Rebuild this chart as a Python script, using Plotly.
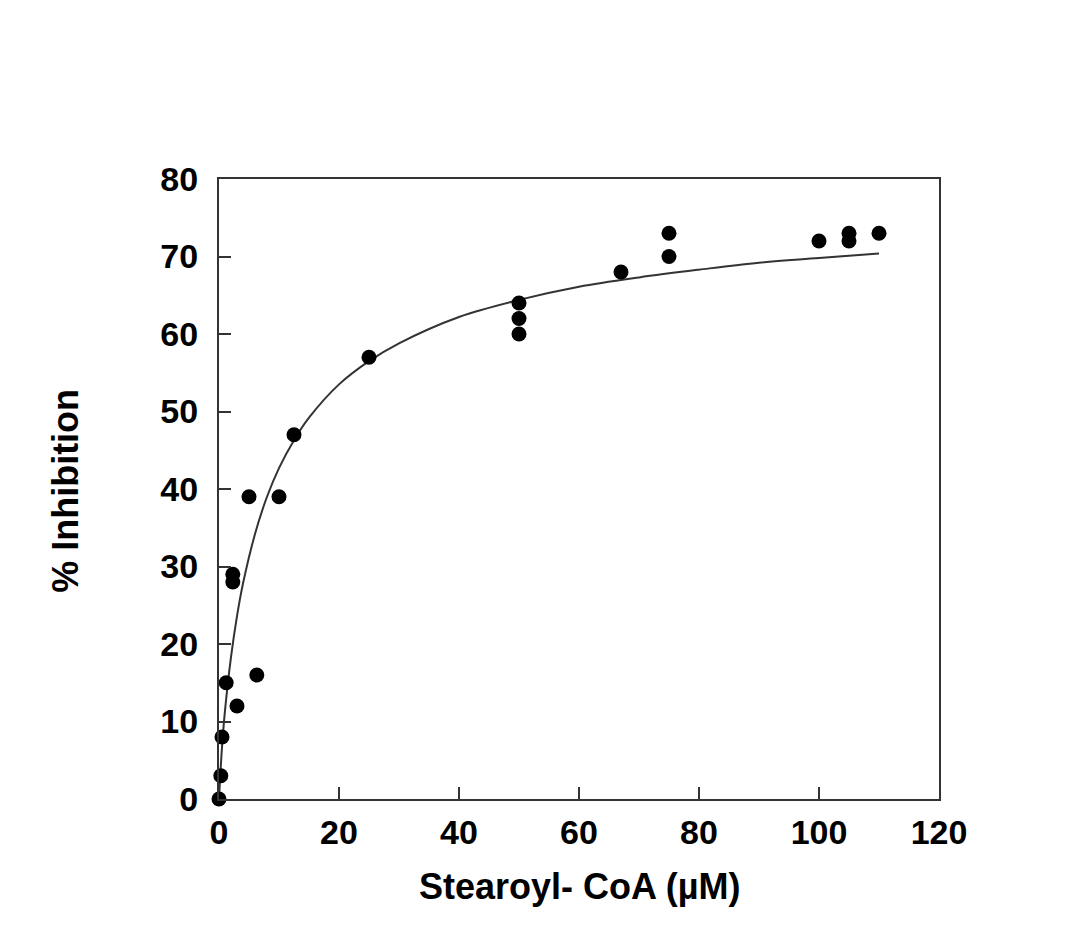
import plotly.graph_objects as go

# Measured inhibition points: Stearoyl-CoA concentration (µM) vs % inhibition
conc = [0, 0.3, 0.5, 1.2, 3, 6.3, 2.3, 2.3, 5, 10, 12.5, 25,
        50, 50, 50, 67, 75, 75, 100, 105, 105, 110]
inhibition = [0, 3, 8, 15, 12, 16, 28, 29, 39, 39, 47, 57,
              64, 62, 60, 68, 73, 70, 72, 72, 73, 73]

# Fitted saturation curve
fit_x = [0, 0.5, 1, 2, 3, 4, 6, 8, 10, 12.5, 15, 20, 25, 30, 40,
         50, 60, 70, 80, 90, 100, 110]
fit_y = [0, 6.7, 11.4, 18.3, 23.6, 27.8, 34.2, 39.0, 42.7, 46.3, 49.2,
         53.5, 56.5, 58.8, 62.2, 64.4, 66.1, 67.3, 68.3, 69.2, 69.8, 70.4]

x_ticks = [0, 20, 40, 60, 80, 100, 120]
y_ticks = [0, 10, 20, 30, 40, 50, 60, 70, 80]

fig = go.Figure()
fig.add_trace(go.Scatter(
    x=fit_x, y=fit_y, mode="lines", line_shape="spline",
    line=dict(color="#333333", width=2), hoverinfo="skip", showlegend=False,
))
fig.add_trace(go.Scatter(
    x=conc, y=inhibition, mode="markers", cliponaxis=False,
    marker=dict(color="black", size=15, symbol="circle"), showlegend=False,
))

axis_font = dict(family="Liberation Sans, Arial, sans-serif", size=34, color="black")
common = dict(
    showline=True, linecolor="#333333", linewidth=2, mirror=True,
    ticks="inside", ticklen=12, tickwidth=2, tickcolor="#333333",
    showgrid=False, zeroline=False, tickfont=axis_font,
)

fig.update_xaxes(range=[0, 120], tickvals=x_ticks,
                 ticktext=[f"<b>{v}</b>" for v in x_ticks], ticklabelstandoff=2, **common)
fig.update_yaxes(range=[0, 80], tickvals=y_ticks,
                 ticktext=[f"<b>{v}</b>" for v in y_ticks], ticklabelstandoff=12, **common)

title_font = dict(family="Liberation Sans, Arial, sans-serif", size=36, color="black")
fig.add_annotation(text="<b>Stearoyl- CoA (µM)</b>", xref="paper", yref="paper",
                   x=0.5, y=-0.1418, showarrow=False, font=title_font,
                   xanchor="center", yanchor="middle")
fig.add_annotation(text="<b>% Inhibition</b>", xref="paper", yref="paper",
                   x=-0.2125, y=0.497, showarrow=False, font=title_font, textangle=-90,
                   xanchor="center", yanchor="middle")

fig.update_layout(
    width=1078, height=930,
    margin=dict(l=219, r=139, t=179, b=131),
    paper_bgcolor="white", plot_bgcolor="white",
)

fig.write_html("out.html")
